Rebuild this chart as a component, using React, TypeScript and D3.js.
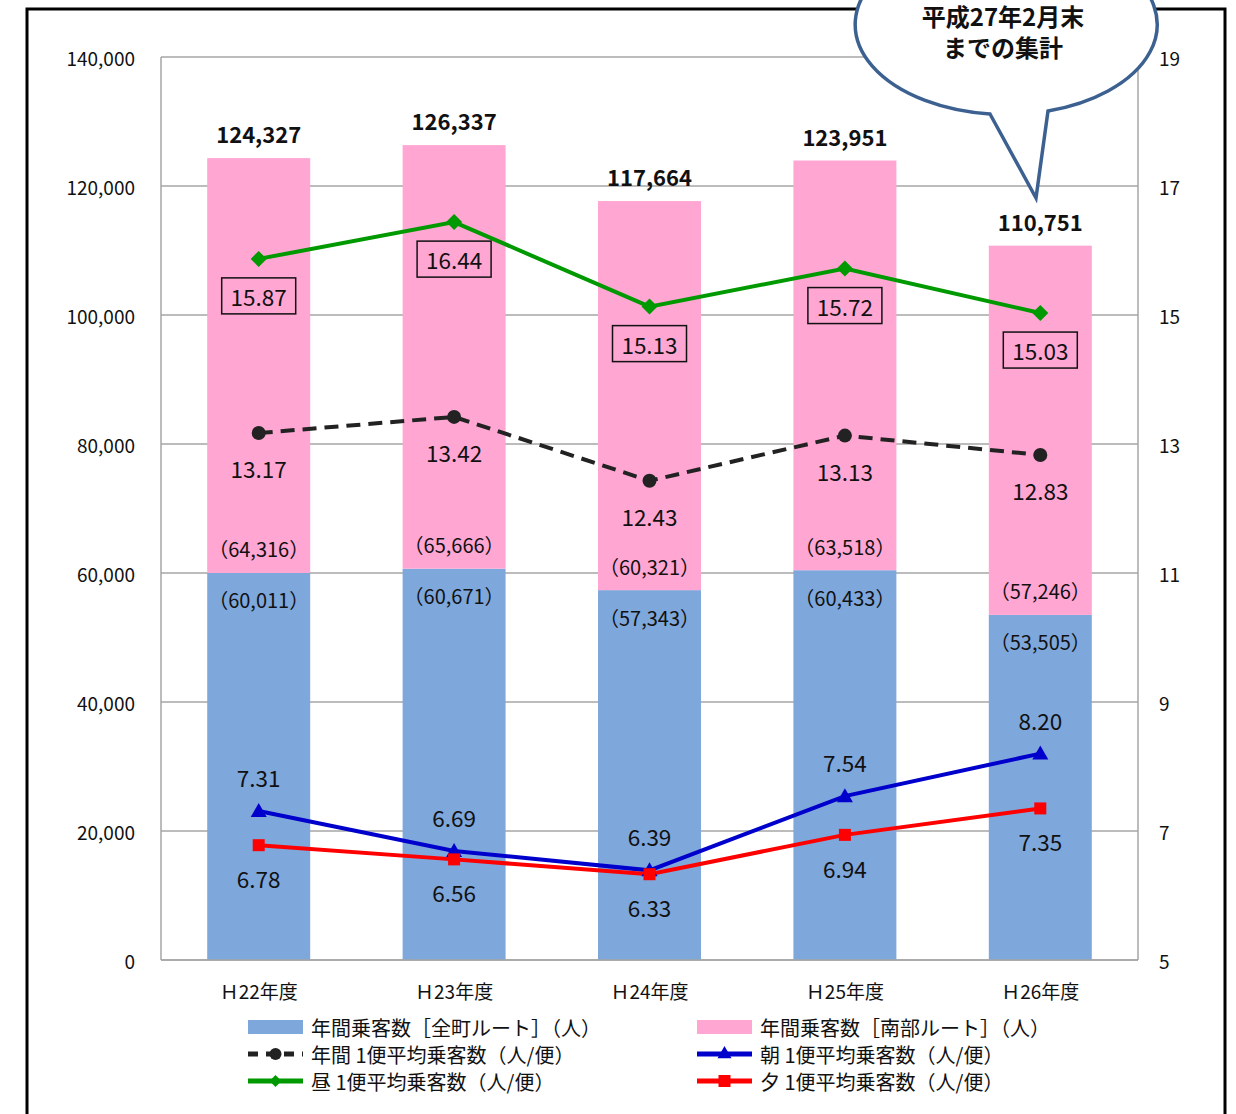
import React from 'react';
import * as d3 from 'd3';

const categories = ['Ｈ22年度', 'Ｈ23年度', 'Ｈ24年度', 'Ｈ25年度', 'Ｈ26年度'];
const zencho = [60011, 60671, 57343, 60433, 53505];
const nanbu = [64316, 65666, 60321, 63518, 57246];
const annualAvg = [13.17, 13.42, 12.43, 13.13, 12.83];
const morningAvg = [7.31, 6.69, 6.39, 7.54, 8.2];
const noonAvg = [15.87, 16.44, 15.13, 15.72, 15.03];
const eveningAvg = [6.78, 6.56, 6.33, 6.94, 7.35];
const leftTicks = [0, 20000, 40000, 60000, 80000, 100000, 120000, 140000];
const rightTicks = [5, 7, 9, 11, 13, 15, 17, 19];

const W = 1236, H = 1114;
const PL = 161, PR = 1138, PT = 57, PB = 960;
const FONT = '"Noto Sans CJK JP", "Noto Sans", sans-serif';

const BLUE_BAR = '#7ea7dc';
const PINK_BAR = '#ffa6d3';
const GREEN = '#009a00';
const BLUE = '#0000cc';
const RED = '#ff0000';

export default function App() {
  const x = d3.scaleBand<string>().domain(categories).range([PL, PR]).paddingInner(0.473).paddingOuter(0.2365);
  const yL = d3.scaleLinear().domain([0, 140000]).range([PB, PT]);
  const yR = d3.scaleLinear().domain([5, 19]).range([PB, PT]);
  const cx = (i: number) => (x(categories[i]) as number) + x.bandwidth() / 2;
  const fmt = d3.format(',');
  const line = d3.line<number>().x((_, i) => cx(i)).y((d) => yR(d));

  const diamond = (px: number, py: number, s = 8, key?: any) => (
    <path key={key} d={`M${px},${py - s}L${px + s},${py}L${px},${py + s}L${px - s},${py}Z`} fill={GREEN} />
  );
  const tri = (px: number, py: number, s = 8, key?: any) => (
    <path key={key} d={`M${px},${py - s}L${px + s},${py + s * 0.75}L${px - s},${py + s * 0.75}Z`} fill={BLUE} />
  );
  const sq = (px: number, py: number, s = 6, key?: any) => (
    <rect key={key} x={px - s} y={py - s} width={2 * s} height={2 * s} fill={RED} />
  );
  const circ = (px: number, py: number, r = 7, key?: any) => <circle key={key} cx={px} cy={py} r={r} fill="#222" />;

  const txt = (s: string, px: number, py: number, size = 21, extra: any = {}) => (
    <text x={px} y={py} fontSize={size} textAnchor="middle" dominantBaseline="central" fill="#111" fontFamily={FONT} {...extra}>
      {s}
    </text>
  );

  const legendItems = [
    { col: 0, row: 0, label: '年間乗客数［全町ルート］（人）', kind: 'barB' },
    { col: 1, row: 0, label: '年間乗客数［南部ルート］（人）', kind: 'barP' },
    { col: 0, row: 1, label: '年間 1便平均乗客数（人/便）', kind: 'black' },
    { col: 1, row: 1, label: '朝 1便平均乗客数（人/便）', kind: 'blue' },
    { col: 0, row: 2, label: '昼 1便平均乗客数（人/便）', kind: 'green' },
    { col: 1, row: 2, label: '夕 1便平均乗客数（人/便）', kind: 'red' },
  ];

  return (
    <svg width={W} height={H} style={{ position: 'absolute', left: 0, top: 0, background: '#fff' }} fontFamily={FONT}>
      <rect x={0} y={0} width={W} height={H} fill="#fff" />
      {/* outer frame */}
      <rect x={27} y={9} width={1198} height={1130} fill="none" stroke="#000" strokeWidth={3} />

      {/* gridlines */}
      {leftTicks.map((t) => (
        <line key={t} x1={PL} x2={PR} y1={yL(t)} y2={yL(t)} stroke="#a6a6a6" strokeWidth={1.5} />
      ))}
      <line x1={PL} x2={PL} y1={PT} y2={PB} stroke="#a6a6a6" strokeWidth={1.5} />
      <line x1={PR} x2={PR} y1={PT} y2={PB} stroke="#a6a6a6" strokeWidth={1.5} />

      {/* left ticks */}
      {leftTicks.map((t) => (
        <text key={t} x={135} y={yL(t)} fontSize={19} textAnchor="end" dominantBaseline="central" fill="#111">
          {fmt(t)}
        </text>
      ))}
      {rightTicks.map((t) => (
        <text key={t} x={1159} y={yR(t)} fontSize={19} textAnchor="start" dominantBaseline="central" fill="#111">
          {t}
        </text>
      ))}

      {/* bars */}
      {categories.map((c, i) => {
        const x0 = x(c) as number;
        const bw = x.bandwidth();
        const yb = yL(zencho[i]);
        const yt = yL(zencho[i] + nanbu[i]);
        return (
          <g key={c}>
            <rect x={x0} y={yb} width={bw} height={PB - yb} fill={BLUE_BAR} />
            <rect x={x0} y={yt} width={bw} height={yb - yt} fill={PINK_BAR} />
          </g>
        );
      })}
      <line x1={PL} x2={PR} y1={PB} y2={PB} stroke="#a6a6a6" strokeWidth={1.5} />

      {/* bar labels */}
      {categories.map((c, i) => {
        const yb = yL(zencho[i]);
        const yt = yL(zencho[i] + nanbu[i]);
        return (
          <g key={c}>
            {txt(fmt(zencho[i] + nanbu[i]), cx(i), yt - 25, 22, { fontWeight: 'bold' })}
            {txt(`（${fmt(nanbu[i])}）`, cx(i), yb - 24, 20)}
            {txt(`（${fmt(zencho[i])}）`, cx(i), yb + 27, 20)}
            {txt(c, cx(i), 990, 19)}
          </g>
        );
      })}

      {/* lines */}
      <path d={line(annualAvg) as string} fill="none" stroke="#222" strokeWidth={4} strokeDasharray="14,8" />
      <path d={line(noonAvg) as string} fill="none" stroke={GREEN} strokeWidth={4} />
      <path d={line(morningAvg) as string} fill="none" stroke={BLUE} strokeWidth={4} />
      <path d={line(eveningAvg) as string} fill="none" stroke={RED} strokeWidth={4} />
      {annualAvg.map((v, i) => circ(cx(i), yR(v), 7, 'a' + i))}
      {noonAvg.map((v, i) => diamond(cx(i), yR(v), 8, 'n' + i))}
      {morningAvg.map((v, i) => tri(cx(i), yR(v), 8, 'm' + i))}
      {eveningAvg.map((v, i) => sq(cx(i), yR(v), 6, 'e' + i))}

      {/* line labels */}
      {annualAvg.map((v, i) => <g key={'al' + i}>{txt(v.toFixed(2), cx(i), yR(v) + 35, 22.5)}</g>)}
      {noonAvg.map((v, i) => (
        <g key={'nl' + i}>
          <rect x={cx(i) - 37} y={yR(v) + 19} width={74} height={36} fill="none" stroke="#111" strokeWidth={1.5} />
          {txt(v.toFixed(2), cx(i), yR(v) + 37, 22.5)}
        </g>
      ))}
      {morningAvg.map((v, i) => <g key={'ml' + i}>{txt(v.toFixed(2), cx(i), yR(v) - 34, 22.5)}</g>)}
      {eveningAvg.map((v, i) => <g key={'el' + i}>{txt(v.toFixed(2), cx(i), yR(v) + 33, 22.5)}</g>)}

      {/* legend */}
      {legendItems.map((it) => {
        const sx = it.col === 0 ? 248 : 697;
        const ty = 1027 + it.row * 27;
        let sw: any = null;
        if (it.kind === 'barB') sw = <rect x={sx} y={ty - 7} width={55} height={14} fill={BLUE_BAR} />;
        else if (it.kind === 'barP') sw = <rect x={sx} y={ty - 7} width={55} height={14} fill={PINK_BAR} />;
        else if (it.kind === 'black')
          sw = (
            <g>
              <line x1={sx} x2={sx + 55} y1={ty} y2={ty} stroke="#222" strokeWidth={5} strokeDasharray="10,8" />
              {circ(sx + 27.5, ty, 6)}
            </g>
          );
        else if (it.kind === 'blue')
          sw = (
            <g>
              <line x1={sx} x2={sx + 55} y1={ty} y2={ty} stroke={BLUE} strokeWidth={5} />
              {tri(sx + 27.5, ty - 1, 7)}
            </g>
          );
        else if (it.kind === 'green')
          sw = (
            <g>
              <line x1={sx} x2={sx + 55} y1={ty} y2={ty} stroke={GREEN} strokeWidth={5} />
              {diamond(sx + 27.5, ty, 6)}
            </g>
          );
        else
          sw = (
            <g>
              <line x1={sx} x2={sx + 55} y1={ty} y2={ty} stroke={RED} strokeWidth={5} />
              {sq(sx + 27.5, ty, 6)}
            </g>
          );
        return (
          <g key={it.label}>
            {sw}
            <text x={sx + 63} y={ty} fontSize={20} dominantBaseline="central" fill="#111">
              {it.label}
            </text>
          </g>
        );
      })}

      {/* callout */}
      <path
        d="M990,114 L1036,198 L1048,111 A151,90 0 1 0 990,114 Z"
        fill="#fff"
        stroke="#3c6191"
        strokeWidth={3.5}
        strokeLinejoin="miter"
      />
      {txt('平成27年2月末', 1003, 15, 24, { fontWeight: 'bold' })}
      {txt('までの集計', 1003, 46, 24, { fontWeight: 'bold' })}
    </svg>
  );
}
